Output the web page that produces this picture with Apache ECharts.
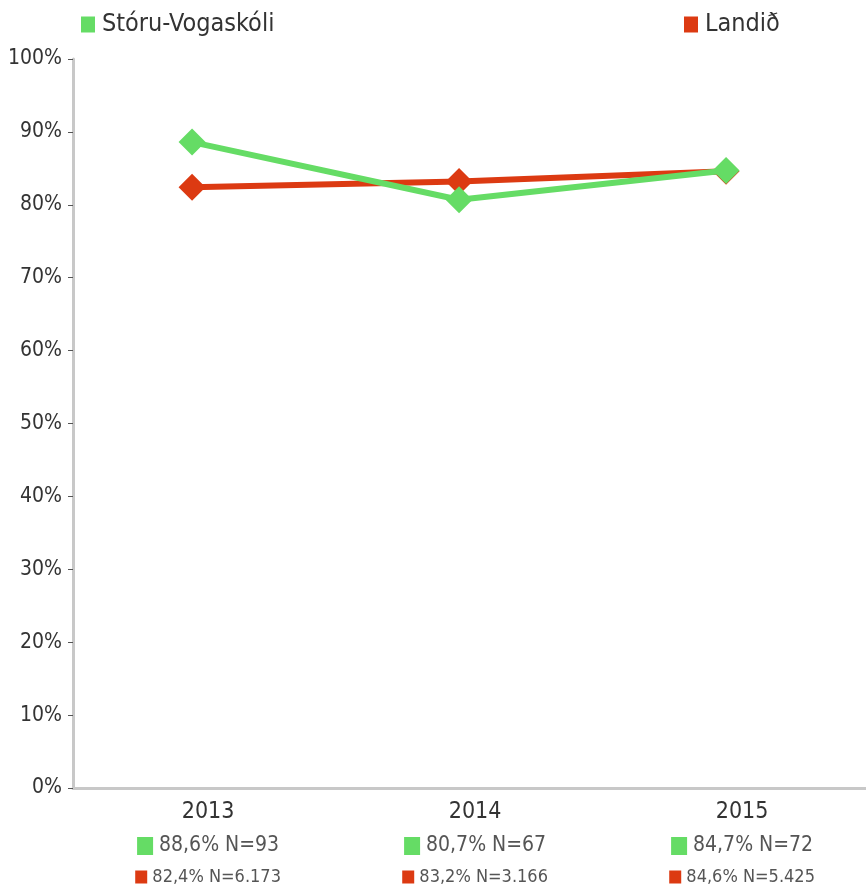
<!DOCTYPE html>
<html>
<head>
<meta charset="utf-8">
<script src="https://cdn.jsdelivr.net/npm/echarts@6/dist/echarts.min.js"></script>
<style>
html,body{margin:0;padding:0;background:#fff;}
#chart{width:866px;height:886px;}
</style>
</head>
<body>
<div id="chart"></div>
<script>
const years = [2013, 2014, 2015];
const schoolName = 'Stóru-Vogaskóli';
const nationalName = 'Landið';
const schoolValues = [88.6, 80.7, 84.7];
const schoolN = ['93', '67', '72'];
const nationalValues = [82.4, 83.2, 84.6];
const nationalN = ['6.173', '3.166', '5.425'];

const GREEN = '#65DC65';
const RED = '#DC3A12';
const FONT = '"Liberation Sans Narrow","DejaVu Sans Condensed","Noto Sans",sans-serif';

function fmt(v){ return String(v.toFixed(1)).replace('.', ','); }

const chart = echarts.init(document.getElementById('chart'));
chart.setOption({
  animation: false,
  backgroundColor: '#fff',
  textStyle: { fontFamily: FONT },
  grid: { left: 73, right: 0, top: 59, bottom: 92, containLabel: false },
  legend: [
    { data: [schoolName], left: 76, top: 7, icon: 'rect', itemWidth: 14, itemHeight: 16, itemGap: 8,
      textStyle: { fontFamily: FONT, fontSize: 25, color: '#333', padding: [0,0,0,2] } },
    { data: [nationalName], left: 679, top: 7, icon: 'rect', itemWidth: 14, itemHeight: 16,
      textStyle: { fontFamily: FONT, fontSize: 25, color: '#333', padding: [0,0,0,2] } }
  ],
  xAxis: {
    type: 'value',
    min: 2012.554,
    max: 2015.524,
    splitLine: { show: false },
    axisTick: { show: false },
    axisLine: { show: true, lineStyle: { color: '#c8c8c8', width: 3 } },
    axisLabel: {
      customValues: years,
      margin: 7,
      padding: [0, 0, 0, 32],
      formatter: function(v){
        const i = years.indexOf(Math.round(v));
        if (i < 0) return '';
        return '{yr|' + years[i] + '}\n{gs|}{gt| ' + fmt(schoolValues[i]) + '% N=' + schoolN[i] + '}\n{rs|}{rt| ' + fmt(nationalValues[i]) + '% N=' + nationalN[i] + '}';
      },
      rich: {
        yr: { fontFamily: FONT, fontSize: 23, color: '#333', lineHeight: 34, align: 'center' },
        gs: { backgroundColor: GREEN, width: 16, height: 18 },
        gt: { fontFamily: FONT, fontSize: 21, color: '#555', lineHeight: 34 },
        rs: { backgroundColor: RED, width: 12, height: 13 },
        rt: { fontFamily: FONT, fontSize: 18, color: '#555', lineHeight: 28 }
      }
    }
  },
  yAxis: {
    type: 'value',
    min: 0, max: 100, interval: 10,
    splitLine: { show: false },
    axisLine: { show: true, lineStyle: { color: '#c8c8c8', width: 3 } },
    axisTick: { show: true, length: 5, lineStyle: { color: '#555', width: 1 } },
    axisLabel: { formatter: '{value}%', margin: 11, fontFamily: FONT, fontSize: 21, color: '#333' }
  },
  series: [
    {
      name: nationalName, type: 'line',
      data: years.map((y, i) => [y, nationalValues[i]]),
      symbol: 'diamond', symbolSize: 27,
      itemStyle: { color: RED },
      lineStyle: { color: RED, width: 6 },
      z: 2
    },
    {
      name: schoolName, type: 'line',
      data: years.map((y, i) => [y, schoolValues[i]]),
      symbol: 'diamond', symbolSize: 27,
      itemStyle: { color: GREEN },
      lineStyle: { color: GREEN, width: 6 },
      z: 3
    }
  ]
});
</script>
</body>
</html>
